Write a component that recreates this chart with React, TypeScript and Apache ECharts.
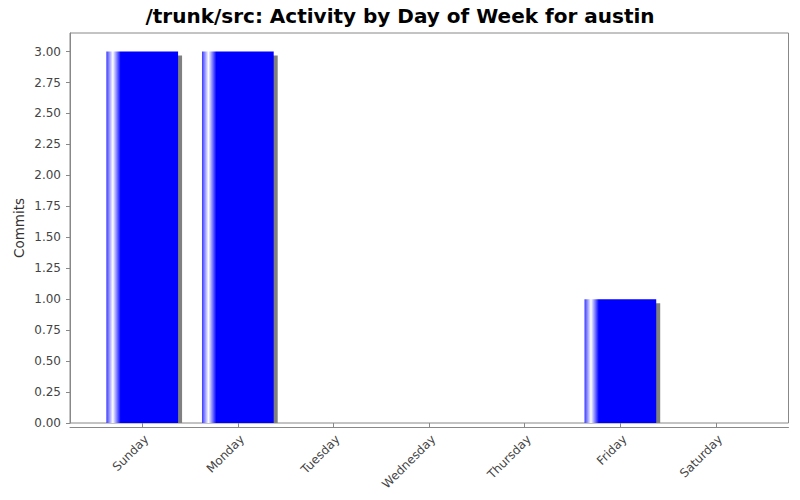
import * as echarts from 'echarts'
import React, { useEffect, useRef } from 'react'

const days = ['Sunday', 'Monday', 'Tuesday', 'Wednesday', 'Thursday', 'Friday', 'Saturday']
const commits = [3, 3, 0, 0, 0, 1, 0]
const yTicks = [0, 0.25, 0.5, 0.75, 1, 1.25, 1.5, 1.75, 2, 2.25, 2.5, 2.75, 3]

const frameColor = '#888888'
const labelColor = '#444444'
const font = '"DejaVu Sans", sans-serif'

export default function App() {
  const chartRef = useRef<HTMLDivElement>(null)

  useEffect(() => {
    const chart = echarts.init(chartRef.current, null, { renderer: 'svg' })

    const option = {
      animation: false,
      backgroundColor: '#ffffff',
      title: {
        text: '/trunk/src: Activity by Day of Week for austin',
        left: 'center',
        top: 1,
        textStyle: {
          fontFamily: font,
          fontSize: 20,
          fontWeight: 'bold',
          color: '#000000',
        },
      },
      grid: [
        {
          left: 70,
          right: 11.5,
          top: 33,
          bottom: 77,
          show: true,
          borderColor: frameColor,
          borderWidth: 1,
          backgroundColor: '#ffffff',
        },
        {
          left: 94.4,
          right: 36.2,
          top: 33,
          bottom: 77,
        },
      ],
      xAxis: [
        {
          type: 'value',
          gridIndex: 0,
          min: 0,
          max: 1,
          offset: 4,
          axisLine: { show: true, onZero: false, lineStyle: { color: frameColor } },
          axisTick: { show: false },
          axisLabel: { show: false },
          splitLine: { show: false },
        },
        {
          type: 'category',
          gridIndex: 1,
          data: days,
          offset: 4,
          axisLine: { show: false },
          axisTick: {
            show: true,
            alignWithLabel: true,
            interval: 0,
            length: 4,
            lineStyle: { color: frameColor },
          },
          axisLabel: {
            interval: 0,
            rotate: 45,
            margin: 6,
            verticalAlign: 'top',
            fontFamily: font,
            fontSize: 12,
            color: labelColor,
          },
          splitLine: { show: false },
        },
      ],
      yAxis: [
        {
          type: 'value',
          gridIndex: 0,
          min: 0,
          max: 3.15,
          offset: 3,
          name: 'Commits',
          nameLocation: 'middle',
          nameGap: 41,
          nameMoveOverlap: false,
          nameTextStyle: {
            fontFamily: font,
            fontSize: 13.5,
            color: '#333333',
          },
          axisLine: { show: true, lineStyle: { color: frameColor } },
          axisTick: {
            show: true,
            length: 4,
            customValues: yTicks,
            lineStyle: { color: frameColor },
          },
          axisLabel: {
            customValues: yTicks,
            margin: 6,
            fontFamily: font,
            fontSize: 12,
            color: labelColor,
            formatter: (v: number) => v.toFixed(2),
          },
          splitLine: { show: false },
        },
        {
          type: 'value',
          gridIndex: 1,
          min: 0,
          max: 3.15,
          show: false,
        },
      ],
      series: [
        {
          type: 'custom',
          xAxisIndex: 1,
          yAxisIndex: 1,
          data: days.map((d, i) => [i, commits[i]]),
          renderItem: (params: any, api: any) => {
            const v = api.value(1)
            if (!v) return null
            const base = api.coord([api.value(0), 0])
            const top = api.coord([api.value(0), v])
            const bw = api.size([1, 0])[0] * 0.75
            const x = top[0] - bw / 2
            const h = base[1] - top[1]
            return {
              type: 'group',
              children: [
                {
                  type: 'rect',
                  shape: { x: x + 4, y: top[1] + 4, width: bw, height: h - 4 },
                  style: { fill: '#808080' },
                },
                {
                  type: 'rect',
                  shape: { x, y: top[1], width: bw, height: h },
                  style: {
                    fill: new echarts.graphic.LinearGradient(0, 0, 1, 0, [
                      { offset: 0, color: '#3838ff' },
                      { offset: 0.09, color: '#ffffff' },
                      { offset: 0.2, color: '#0000ff' },
                      { offset: 1, color: '#0000ff' },
                    ]),
                  },
                },
              ],
            }
          },
        },
      ],
    }

    chart.setOption(option)

    return () => {
      chart.dispose()
    }
  }, [])

  return (
    <div
      ref={chartRef}
      style={{ position: 'fixed', left: 0, top: 0, width: '800px', height: '500px' }}
    />
  )
}
